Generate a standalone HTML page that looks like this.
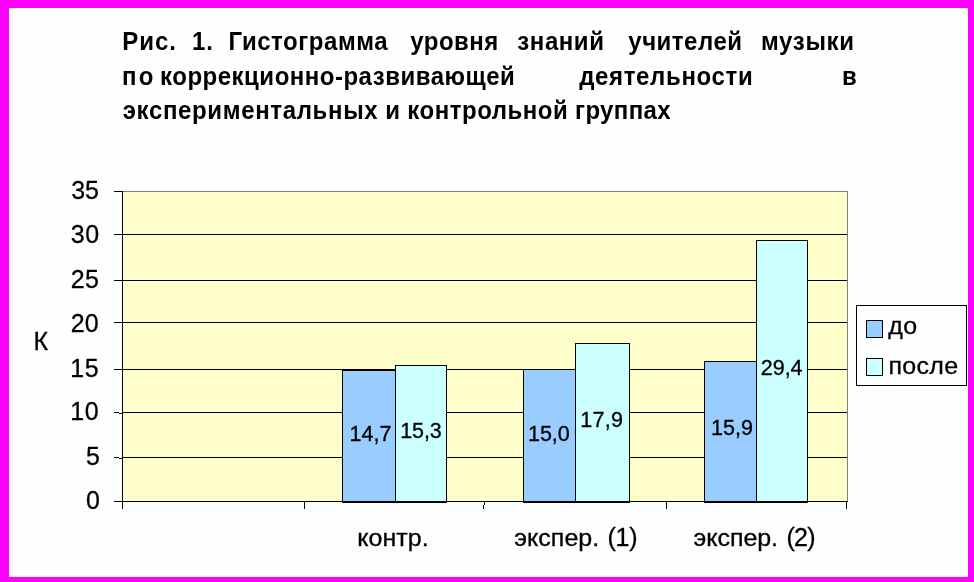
<!DOCTYPE html>
<html><head><meta charset="utf-8">
<style>
html,body{margin:0;padding:0;background:#ff00ff;}
body{width:974px;height:582px;overflow:hidden;}
svg{display:block;}
text{font-family:"Liberation Sans",sans-serif;fill:#000;}
.t{font-size:25px;font-weight:bold;}
.a{font-size:25px;stroke:#000;stroke-width:0.3px;}
.x{font-size:23.6px;stroke:#000;stroke-width:0.3px;}
.d{font-size:21.5px;stroke:#000;stroke-width:0.3px;}
</style></head><body>
<svg width="974" height="582" viewBox="0 0 974 582">
<rect x="0" y="0" width="974" height="582" fill="#ff00ff"/>
<rect x="9" y="8" width="959" height="569" fill="#fefefe"/>
<g shape-rendering="crispEdges">
<!-- plot area -->
<rect x="122" y="191" width="726" height="311" fill="#ffffcc"/>
<rect x="122" y="191" width="726" height="1" fill="#808080"/>
<rect x="847" y="191" width="1" height="311" fill="#808080"/>
<!-- gridlines + ticks -->
<g fill="#000">
<rect x="114" y="191" width="9" height="1"/>
<rect x="114" y="234" width="733" height="1"/>
<rect x="114" y="280" width="733" height="1"/>
<rect x="114" y="322" width="733" height="1"/>
<rect x="114" y="369" width="733" height="1"/>
<rect x="122" y="412" width="725" height="1"/>
<rect x="114" y="412" width="5" height="1"/><rect x="119" y="413" width="3" height="1"/>
<rect x="122" y="457" width="725" height="1"/>
<rect x="114" y="457" width="5" height="1"/><rect x="119" y="458" width="3" height="1"/>
<rect x="114" y="501" width="734" height="1"/>
<rect x="122" y="191" width="1" height="318"/>
<rect x="304" y="501" width="1" height="8"/>
<rect x="484" y="501" width="1" height="4"/><rect x="483" y="505" width="1" height="4"/>
<rect x="666" y="501" width="1" height="8"/>
<rect x="846" y="501" width="1" height="8"/>
</g>
<!-- bars -->
<rect x="342" y="370" width="54" height="133" fill="#000"/><rect x="343" y="371" width="52" height="130" fill="#99ccff"/>
<rect x="395" y="365" width="52" height="138" fill="#000"/><rect x="396" y="366" width="50" height="135" fill="#ccffff"/>
<rect x="523" y="369" width="53" height="134" fill="#000"/><rect x="524" y="370" width="51" height="131" fill="#99ccff"/>
<rect x="575" y="343" width="55" height="160" fill="#000"/><rect x="576" y="344" width="53" height="157" fill="#ccffff"/>
<rect x="704" y="361" width="53" height="142" fill="#000"/><rect x="705" y="362" width="51" height="139" fill="#99ccff"/>
<rect x="756" y="240" width="52" height="263" fill="#000"/><rect x="757" y="241" width="50" height="260" fill="#ccffff"/>
<!-- legend -->
<rect x="856" y="305" width="111" height="81" fill="#000"/><rect x="857" y="306" width="109" height="79" fill="#fefefe"/>
<rect x="866" y="320" width="17" height="18" fill="#000"/><rect x="867" y="321" width="15" height="16" fill="#99ccff"/>
<rect x="866" y="358" width="17" height="18" fill="#000"/><rect x="867" y="359" width="15" height="16" fill="#ccffff"/>
</g>

<g style="filter:grayscale(1)">
<text class="t" transform="translate(122.19,50) scale(0.96,1)" letter-spacing="1.036">Рис.</text>
<text class="t" transform="translate(191.90,50) scale(0.96,1)" letter-spacing="0.958">1.</text>
<text class="t" transform="translate(228.41,50) scale(0.96,1)" letter-spacing="0.557">Гистограмма</text>
<text class="t" transform="translate(410.22,50) scale(0.96,1)" letter-spacing="0.516">уровня</text>
<text class="t" transform="translate(517.32,50) scale(0.96,1)" letter-spacing="0.593">знаний</text>
<text class="t" transform="translate(628.29,50) scale(0.96,1)" letter-spacing="0.528">учителей</text>
<text class="t" transform="translate(761.00,50) scale(0.96,1)" letter-spacing="0.711">музыки</text>
<text class="t" transform="translate(122.05,85) scale(0.96,1)" letter-spacing="2.194">по</text>
<text class="t" transform="translate(160.07,85) scale(0.96,1)" letter-spacing="0.526">коррекционно-развивающей</text>
<text class="t" transform="translate(579.16,85) scale(0.96,1)" letter-spacing="0.679">деятельности</text>
<text class="t" transform="translate(842.02,85) scale(0.96,1)" letter-spacing="0.000">в</text>
<text class="t" transform="translate(122.67,119) scale(0.96,1)" letter-spacing="0.678">экспериментальных</text>
<text class="t" transform="translate(385.30,119) scale(0.96,1)" letter-spacing="0.000">и</text>
<text class="t" transform="translate(407.32,119) scale(0.96,1)" letter-spacing="0.547">контрольной</text>
<text class="t" transform="translate(575.05,119) scale(0.96,1)" letter-spacing="0.384">группах</text>
<text class="a" x="71.16" y="199" letter-spacing="-0.125">35</text>
<text class="a" x="70.80" y="243" letter-spacing="0.561">30</text>
<text class="a" x="70.85" y="288" letter-spacing="0.186">25</text>
<text class="a" x="70.85" y="332" letter-spacing="0.125">20</text>
<text class="a" x="70.32" y="377" letter-spacing="0.616">15</text>
<text class="a" x="70.32" y="420" letter-spacing="0.557">10</text>
<text class="a" x="85.94" y="465" letter-spacing="0.000">5</text>
<text class="a" x="85.90" y="509" letter-spacing="0.000">0</text>
<text class="a" x="33.49" y="350" letter-spacing="0.000">К</text>
<text class="x" transform="translate(357.23,546) scale(1.06,1)" letter-spacing="0.039">контр.</text>
<text class="x" transform="translate(514.30,546) scale(1.06,1)" letter-spacing="0.029">экспер.</text>
<text class="a" x="607.50" y="546" letter-spacing="-0.221">(1)</text>
<text class="x" transform="translate(693.60,546) scale(1.06,1)" letter-spacing="-0.049">экспер.</text>
<text class="a" x="786.50" y="546" letter-spacing="-0.721">(2)</text>
<text class="x" transform="translate(888.35,333.5) scale(1.06,1)" letter-spacing="0.413">до</text>
<text class="x" transform="translate(888.49,374) scale(1.06,1)" letter-spacing="0.276">после</text>
<text class="d" x="349.43" y="441" letter-spacing="0.043">14,7</text>
<text class="d" x="400.23" y="438" letter-spacing="-0.116">15,3</text>
<text class="d" x="528.09" y="441" letter-spacing="-0.068">15,0</text>
<text class="d" x="580.23" y="427" letter-spacing="0.262">17,9</text>
<text class="d" x="711.09" y="435" letter-spacing="-0.016">15,9</text>
<text class="d" x="760.86" y="375" letter-spacing="-0.059">29,4</text>
</g>
</svg>
</body></html>
